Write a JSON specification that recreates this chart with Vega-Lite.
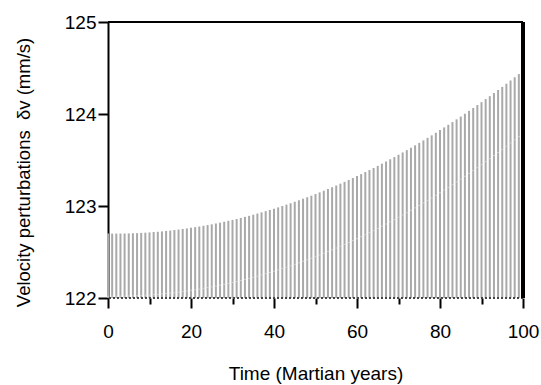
{
  "$schema": "https://vega.github.io/schema/vega-lite/v6.json",
  "width": 415,
  "height": 276,
  "autosize": {"type": "none"},
  "padding": {"left": 108, "top": 22, "right": 18, "bottom": 87},
  "background": "white",
  "config": {
    "view": {"stroke": null},
    "font": "Liberation Sans",
    "axis": {"labelFont": "Liberation Sans", "titleFont": "Liberation Sans", "labelColor": "black", "titleColor": "black", "tickColor": "black", "domainColor": "black", "grid": false, "titleFontWeight": "normal"}
  },
  "data": {"values": [
    {"t":0,"v":122.700,"low":122.020},{"t":1,"v":122.700,"low":122.020},{"t":2,"v":122.700,"low":122.020},{"t":3,"v":122.700,"low":122.020},{"t":4,"v":122.701,"low":122.021},
    {"t":5,"v":122.702,"low":122.022},{"t":6,"v":122.704,"low":122.024},{"t":7,"v":122.705,"low":122.025},{"t":8,"v":122.708,"low":122.028},{"t":9,"v":122.710,"low":122.030},
    {"t":10,"v":122.713,"low":122.033},{"t":11,"v":122.717,"low":122.037},{"t":12,"v":122.720,"low":122.040},{"t":13,"v":122.724,"low":122.044},{"t":14,"v":122.729,"low":122.049},
    {"t":15,"v":122.733,"low":122.053},{"t":16,"v":122.739,"low":122.059},{"t":17,"v":122.744,"low":122.064},{"t":18,"v":122.750,"low":122.070},{"t":19,"v":122.756,"low":122.076},
    {"t":20,"v":122.763,"low":122.083},{"t":21,"v":122.770,"low":122.090},{"t":22,"v":122.777,"low":122.097},{"t":23,"v":122.785,"low":122.105},{"t":24,"v":122.793,"low":122.113},
    {"t":25,"v":122.801,"low":122.121},{"t":26,"v":122.810,"low":122.130},{"t":27,"v":122.819,"low":122.139},{"t":28,"v":122.829,"low":122.149},{"t":29,"v":122.839,"low":122.159},
    {"t":30,"v":122.849,"low":122.169},{"t":31,"v":122.859,"low":122.179},{"t":32,"v":122.870,"low":122.190},{"t":33,"v":122.882,"low":122.202},{"t":34,"v":122.893,"low":122.213},
    {"t":35,"v":122.905,"low":122.225},{"t":36,"v":122.918,"low":122.238},{"t":37,"v":122.931,"low":122.251},{"t":38,"v":122.944,"low":122.264},{"t":39,"v":122.957,"low":122.277},
    {"t":40,"v":122.971,"low":122.291},{"t":41,"v":122.985,"low":122.305},{"t":42,"v":123.000,"low":122.320},{"t":43,"v":123.015,"low":122.335},{"t":44,"v":123.030,"low":122.350},
    {"t":45,"v":123.046,"low":122.366},{"t":46,"v":123.062,"low":122.382},{"t":47,"v":123.079,"low":122.399},{"t":48,"v":123.095,"low":122.415},{"t":49,"v":123.112,"low":122.432},
    {"t":50,"v":123.130,"low":122.450},{"t":51,"v":123.148,"low":122.468},{"t":52,"v":123.166,"low":122.486},{"t":53,"v":123.185,"low":122.505},{"t":54,"v":123.204,"low":122.524},
    {"t":55,"v":123.223,"low":122.543},{"t":56,"v":123.243,"low":122.563},{"t":57,"v":123.263,"low":122.583},{"t":58,"v":123.283,"low":122.603},{"t":59,"v":123.304,"low":122.624},
    {"t":60,"v":123.325,"low":122.645},{"t":61,"v":123.347,"low":122.667},{"t":62,"v":123.369,"low":122.689},{"t":63,"v":123.391,"low":122.711},{"t":64,"v":123.413,"low":122.733},
    {"t":65,"v":123.436,"low":122.756},{"t":66,"v":123.460,"low":122.780},{"t":67,"v":123.484,"low":122.804},{"t":68,"v":123.508,"low":122.828},{"t":69,"v":123.532,"low":122.852},
    {"t":70,"v":123.557,"low":122.877},{"t":71,"v":123.582,"low":122.902},{"t":72,"v":123.607,"low":122.927},{"t":73,"v":123.633,"low":122.953},{"t":74,"v":123.660,"low":122.980},
    {"t":75,"v":123.686,"low":123.006},{"t":76,"v":123.713,"low":123.033},{"t":77,"v":123.741,"low":123.061},{"t":78,"v":123.768,"low":123.088},{"t":79,"v":123.796,"low":123.116},
    {"t":80,"v":123.825,"low":123.145},{"t":81,"v":123.854,"low":123.174},{"t":82,"v":123.883,"low":123.203},{"t":83,"v":123.912,"low":123.232},{"t":84,"v":123.942,"low":123.262},
    {"t":85,"v":123.972,"low":123.292},{"t":86,"v":124.003,"low":123.323},{"t":87,"v":124.034,"low":123.354},{"t":88,"v":124.065,"low":123.385},{"t":89,"v":124.097,"low":123.417},
    {"t":90,"v":124.129,"low":123.449},{"t":91,"v":124.162,"low":123.482},{"t":92,"v":124.194,"low":123.514},{"t":93,"v":124.228,"low":123.548},{"t":94,"v":124.261,"low":123.581},
    {"t":95,"v":124.295,"low":123.615},{"t":96,"v":124.329,"low":123.649},{"t":97,"v":124.364,"low":123.684},{"t":98,"v":124.399,"low":123.719},{"t":99,"v":124.434,"low":123.754},
    {"t":100,"v":124.470,"low":123.790}
  ]},
  "layer": [
    {
      "mark": {"type": "rule", "color": "#a9a9a9", "strokeWidth": 2},
      "encoding": {
        "x": {"field": "t", "type": "quantitative",
          "scale": {"domain": [0, 100], "nice": false, "zero": false},
          "axis": {"title": "Time (Martian years)", "values": [0,10,20,30,40,50,60,70,80,90,100],
            "format": "d",
            "labelExpr": "datum.value % 20 === 0 ? datum.label : ''",
            "tickSize": {"condition": {"test": "datum.value % 20 === 0", "value": 10}, "value": 6},
            "tickWidth": 2, "domain": false, "labelFontSize": 19, "labelPadding": 14,
            "titleFontSize": 19, "titlePadding": 23, "labelFlush": false}},
        "y": {"field": "v", "type": "quantitative",
          "scale": {"domain": [122, 125], "nice": false, "zero": false},
          "axis": {"title": "Velocity perturbations\u00a0 δv (mm/s)", "values": [122,122.5,123,123.5,124,124.5,125],
            "format": "d",
            "labelExpr": "datum.value % 1 === 0 ? datum.label : ''",
            "tickSize": {"condition": {"test": "datum.value % 1 === 0", "value": 10}, "value": 7},
            "tickWidth": 2, "domainWidth": 2, "labelFontSize": 19, "labelPadding": 2,
            "titleFontSize": 18.5, "titlePadding": 31, "titleY": 150}},
        "y2": {"datum": 122}
      }
    },
    {
      "mark": {"type": "tick", "orient": "horizontal", "color": "#dedede", "size": 2, "thickness": 1},
      "encoding": {
        "x": {"field": "t", "type": "quantitative"},
        "y": {"field": "low", "type": "quantitative"}
      }
    },
    {
      "mark": {"type": "rule", "color": "#444444", "strokeWidth": 1.5, "strokeDash": [2, 2]},
      "encoding": {"y": {"datum": 122}}
    },
    {
      "mark": {"type": "rule", "color": "black", "strokeWidth": 2},
      "encoding": {"y": {"datum": 125}}
    },
    {
      "mark": {"type": "rule", "color": "black", "strokeWidth": 2.5},
      "encoding": {"x": {"datum": 100}}
    }
  ]
}
